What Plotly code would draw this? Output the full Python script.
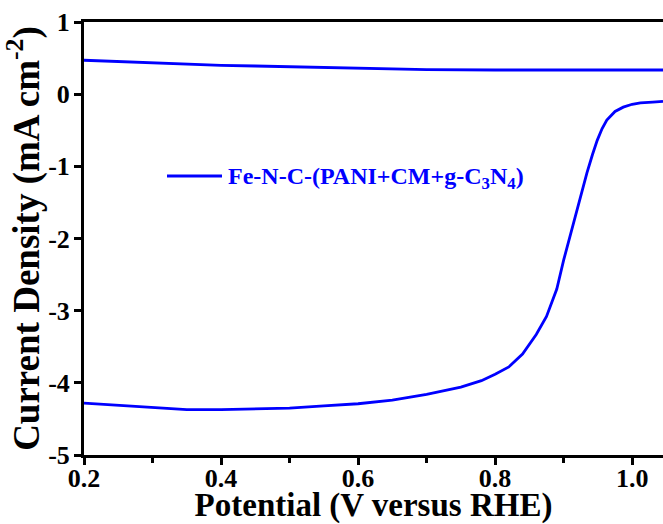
import plotly.graph_objects as go

# Anodic (upper) branch
x_up = [0.20, 0.25, 0.30, 0.35, 0.40, 0.45, 0.50, 0.55, 0.60, 0.65, 0.70, 0.80, 0.90, 1.00, 1.045]
y_up = [0.47, 0.45, 0.43, 0.415, 0.40, 0.39, 0.38, 0.37, 0.355, 0.345, 0.34, 0.335, 0.335, 0.335, 0.335]

# Cathodic (lower) branch
x_dn = [0.20, 0.25, 0.30, 0.35, 0.40, 0.45, 0.50, 0.55, 0.60, 0.65, 0.70, 0.75, 0.78, 0.80,
        0.82, 0.84, 0.86, 0.875, 0.89, 0.90, 0.914, 0.925, 0.934, 0.942, 0.949, 0.956, 0.963,
        0.975, 0.987, 1.00, 1.012, 1.03, 1.045]
y_dn = [-4.28, -4.31, -4.35, -4.37, -4.37, -4.36, -4.35, -4.32, -4.29, -4.24, -4.16, -4.06, -3.97, -3.88,
        -3.78, -3.60, -3.33, -3.08, -2.70, -2.30, -1.79, -1.40, -1.09, -0.84, -0.64, -0.48, -0.36,
        -0.24, -0.18, -0.14, -0.12, -0.11, -0.10]

series_name = "Fe-N-C-(PANI+CM+g-C<sub>3</sub>N<sub>4</sub>)"
x_ticks = [0.2, 0.4, 0.6, 0.8, 1.0]
x_ticktext = ["0.2", "0.4", "0.6", "0.8", "1.0"]
y_ticks = [-5, -4, -3, -2, -1, 0, 1]
y_ticktext = ["-5", "-4", "-3", "-2", "-1", "0", "1"]

BLUE = "#0000FF"
FONT = "Liberation Serif"
TICKFONT = dict(family=FONT, size=26, color="black")

fig = go.Figure()
fig.add_trace(go.Scatter(x=x_up, y=y_up, mode="lines", line=dict(color=BLUE, width=2.8),
                         showlegend=False, hoverinfo="skip"))
fig.add_trace(go.Scatter(x=x_dn, y=y_dn, mode="lines", line=dict(color=BLUE, width=2.8),
                         showlegend=False))

# legend (manual, long swatch)
fig.add_shape(type="line", xref="paper", yref="paper",
              x0=(167 - 84) / 579, x1=(222 - 84) / 579,
              y0=(455 - 176) / 433, y1=(455 - 176) / 433,
              line=dict(color=BLUE, width=2.8))
fig.add_annotation(xref="paper", yref="paper", x=(226 - 84) / 579, y=(455 - 178) / 433,
                   xanchor="left", yanchor="middle", showarrow=False, text="<b>" + series_name + "</b>",
                   font=dict(family=FONT, size=24, color=BLUE))

fig.update_xaxes(range=[0.2, 1.045], tickmode="array", tickvals=x_ticks,
                 ticktext=["<b>" + t + "</b>" for t in x_ticktext],
                 mirror=True, showline=True, linecolor="black", linewidth=3,
                 ticks="outside", tickwidth=3, tickcolor="black", ticklen=7,
                 ticklabelstandoff=-9,
                 showgrid=False, zeroline=False, automargin=False, tickfont=TICKFONT,
                 minor=dict(ticks="outside", ticklen=5, tickwidth=3, tickcolor="black",
                            tickmode="array", tickvals=[0.3, 0.5, 0.7, 0.9], showgrid=False),
                 title=dict(text="<b>Potential (V versus RHE)</b>", standoff=4,
                            font=dict(family=FONT, size=33, color="black")))
fig.update_yaxes(range=[-5, 1], tickmode="array", tickvals=y_ticks,
                 ticktext=["<b>" + t + "</b>" for t in y_ticktext],
                 showline=True, linecolor="black", linewidth=3,
                 ticks="outside", tickwidth=3, tickcolor="black", ticklen=7,
                 ticklabelstandoff=-1,
                 showgrid=False, zeroline=False, automargin=False, tickfont=TICKFONT,
                 title=dict(text="<b>Current Density (mA cm<sup>-2</sup>)</b>", standoff=0,
                            font=dict(family=FONT, size=37, color="black")))

fig.update_layout(template="none", width=663, height=524, margin=dict(l=84, r=0, t=22, b=69),
                  font=dict(family=FONT, color="black"),
                  plot_bgcolor="white", paper_bgcolor="white", showlegend=False)

fig.write_html("out.html")
